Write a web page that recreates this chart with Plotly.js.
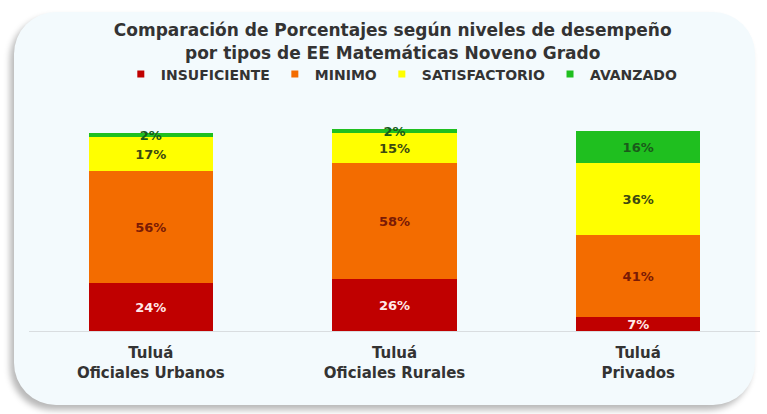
<!DOCTYPE html>
<html>
<head>
<meta charset="utf-8">
<script src="https://cdn.plot.ly/plotly-3.0.1.min.js"></script>
<style>
  html, body { margin: 0; padding: 0; background: #ffffff; }
  #frame {
    position: absolute; left: 14px; top: 12px; width: 741px; height: 393px;
    border-radius: 42px; background: #f3fafd;
    box-shadow: -4px 5px 6px rgba(0,0,0,0.28);
  }
  #chart { position: absolute; left: 0; top: 0; width: 767px; height: 414px; }
</style>
</head>
<body>
<div id="frame"></div>
<div id="chart"></div>
<script>
const categories = ["Tuluá<br>Oficiales Urbanos", "Tuluá<br>Oficiales Rurales", "Tuluá<br>Privados"];
const seriesNames = ["INSUFICIENTE", "MINIMO", "SATISFACTORIO", "AVANZADO"];
const insuficiente = [24, 26, 7];
const minimo = [56, 58, 41];
const satisfactorio = [17, 15, 36];
const avanzado = [2, 2, 16];

const FONT = "DejaVu Sans, Arial, sans-serif";
const colors = ["#c00000", "#f36c00", "#ffff00", "#1fbf1f"];
const textColors = ["#ffe8e8", "#7a1a05", "#3d4a10", "#1a5a1a"];
const values = [insuficiente, minimo, satisfactorio, avanzado];

const traces = [];
values.forEach((v, i) => {
  traces.push({
    type: "bar",
    x: categories,
    y: v,
    name: seriesNames[i],
    marker: { color: colors[i] },
    width: 0.51,
    text: v.map(d => d + "%"),
    textposition: "inside",
    insidetextanchor: "middle",
    constraintext: "none",
    cliponaxis: false,
    textfont: { family: FONT, size: 13, color: textColors[i], weight: "bold" },
    showlegend: false,
    hoverinfo: "skip"
  });
});
values.forEach((v, i) => {
  traces.push({
    type: "scatter",
    mode: "markers",
    x: [null],
    y: [null],
    name: seriesNames[i],
    marker: { color: colors[i], symbol: "square", size: 7 },
    showlegend: true
  });
});

const layout = {
  width: 767,
  height: 414,
  barmode: "stack",
  bargap: 0,
  paper_bgcolor: "rgba(0,0,0,0)",
  plot_bgcolor: "rgba(0,0,0,0)",
  margin: { l: 29, r: 7, t: 129, b: 83 },
  title: {
    text: "<b>Comparación de Porcentajes según niveles de desempeño<br>por tipos de EE Matemáticas Noveno Grado</b>",
    font: { family: FONT, size: 17, color: "#333333" },
    x: 0.512, xanchor: "center",
    y: 0.912, yanchor: "top"
  },
  legend: {
    orientation: "h",
    traceorder: "normal",
    x: 0.51, xanchor: "center",
    y: 1.27, yanchor: "middle",
    font: { family: FONT, size: 14, color: "#333333", weight: "bold" },
    itemwidth: 30,
    bgcolor: "rgba(0,0,0,0)"
  },
  xaxis: {
    type: "category",
    range: [-0.5, 2.5],
    showline: true,
    linecolor: "#d9dde0",
    linewidth: 1,
    ticks: "",
    ticklabelstandoff: 8,
    showgrid: false,
    tickfont: { family: FONT, size: 15, color: "#333333", weight: "bold" },
    fixedrange: true
  },
  yaxis: {
    range: [0, 101],
    visible: false,
    showgrid: false,
    zeroline: false,
    fixedrange: true
  }
};

Plotly.newPlot("chart", traces, layout, { displayModeBar: false, staticPlot: true });
</script>
</body>
</html>
